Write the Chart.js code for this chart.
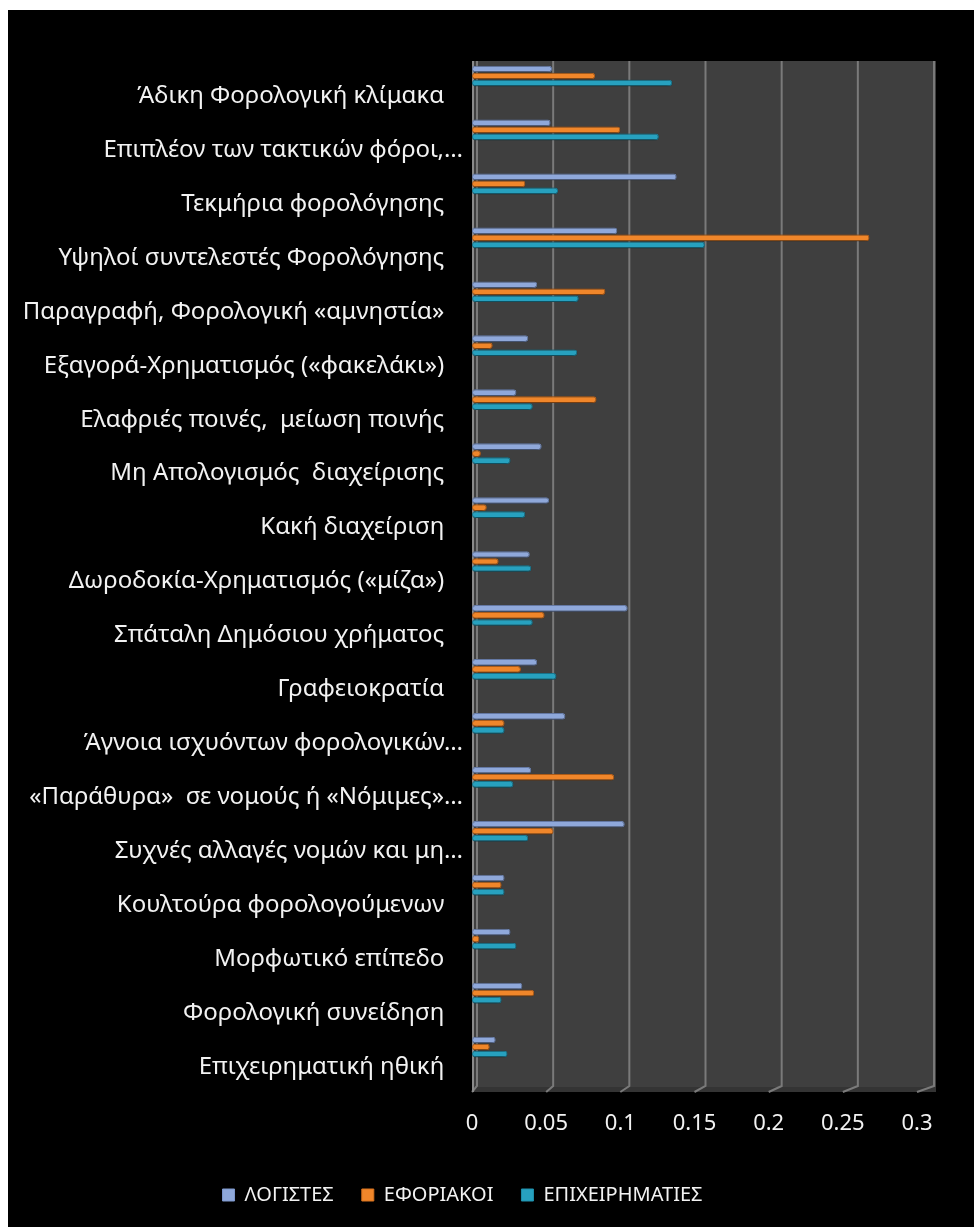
<!DOCTYPE html>
<html>
<head>
<meta charset="utf-8">
<script src="https://cdn.jsdelivr.net/npm/chart.js@4"></script>
<style>
  html, body { margin: 0; padding: 0; background: #ffffff; }
  #wrap { position: absolute; left: 8px; top: 10px; width: 966px; height: 1217px; background: #000000; }
</style>
</head>
<body>
<div id="wrap"><canvas id="myChart"></canvas></div>
<script>
// categories, top to bottom as in the picture
const categories = [
  "Άδικη Φορολογική κλίμακα   ",
  "Επιπλέον των τακτικών φόροι,…",
  "Τεκμήρια φορολόγησης   ",
  "Υψηλοί συντελεστές Φορολόγησης   ",
  "Παραγραφή, Φορολογική «αμνηστία»   ",
  "Εξαγορά-Χρηματισμός («φακελάκι»)   ",
  "Ελαφριές ποινές,  μείωση ποινής   ",
  "Μη Απολογισμός  διαχείρισης   ",
  "Κακή διαχείριση   ",
  "Δωροδοκία-Χρηματισμός («μίζα»)   ",
  "Σπάταλη Δημόσιου χρήματος   ",
  "Γραφειοκρατία   ",
  "Άγνοια ισχυόντων φορολογικών…",
  "«Παράθυρα»  σε νομούς ή «Νόμιμες»…",
  "Συχνές αλλαγές νομών και μη…",
  "Κουλτούρα φορολογούμενων   ",
  "Μορφωτικό επίπεδο   ",
  "Φορολογική συνείδηση   ",
  "Επιχειρηματική ηθική   ",
];

const seriesNames = ["ΛΟΓΙΣΤΕΣ", "ΕΦΟΡΙΑΚΟΙ", "ΕΠΙΧΕΙΡΗΜΑΤΙΕΣ"];

const logistes = [
  0.054, 0.053, 0.138, 0.098, 0.044, 0.038, 0.030, 0.047, 0.052, 0.039,
  0.105, 0.044, 0.063, 0.040, 0.103, 0.022, 0.026, 0.034, 0.016,
];
const eforiakoi = [
  0.083, 0.100, 0.036, 0.268, 0.090, 0.014, 0.084, 0.006, 0.010, 0.018,
  0.049, 0.033, 0.022, 0.096, 0.055, 0.020, 0.005, 0.042, 0.012,
];
const epixeirimaties = [
  0.135, 0.126, 0.058, 0.157, 0.072, 0.071, 0.041, 0.026, 0.036, 0.040,
  0.041, 0.057, 0.022, 0.028, 0.038, 0.022, 0.030, 0.020, 0.024,
];

const xTicks = [0, 0.05, 0.1, 0.15, 0.2, 0.25, 0.3];

const colors = ["#8fa8da", "#f0862a", "#27a1bf"];
const borders = ["#7d97cc", "#d8721f", "#1e90ad"];

// grey back wall + floor, grid lines with a little depth
const wallPlugin = {
  id: "wall",
  beforeDatasetsDraw(chart) {
    const ctx = chart.ctx;
    const a = chart.chartArea;
    const xs = chart.scales.x;
    const top = a.top + 12;
    const backBottom = a.bottom + 12;
    const frontBottom = a.bottom + 18;
    ctx.save();
    ctx.fillStyle = "#3f3f3f";
    ctx.fillRect(a.left, top, a.right - a.left + 19, frontBottom - top);
    ctx.fillStyle = "#343434";
    ctx.fillRect(a.left, backBottom + 1, a.right - a.left + 19, frontBottom - backBottom - 1);

    ctx.strokeStyle = "#7a7a7a";
    ctx.lineWidth = 2;
    xTicks.forEach(function (v) {
      const fx = xs.getPixelForValue(v);
      const bx = fx + 5 + (fx - a.left) * 0.027;
      ctx.beginPath();
      ctx.moveTo(bx, top);
      ctx.lineTo(bx, backBottom);
      ctx.lineTo(fx, frontBottom);
      ctx.stroke();
    });
    // front edge of the wall
    ctx.strokeStyle = "#8a8a8a";
    ctx.beginPath();
    ctx.moveTo(a.left + 1, top);
    ctx.lineTo(a.left + 1, frontBottom);
    ctx.stroke();

    ctx.shadowColor = "rgba(0,0,0,0.8)";
    ctx.shadowBlur = 4;
    ctx.shadowOffsetY = 1;
  },
  afterDatasetsDraw(chart) {
    chart.ctx.restore();
  },
};

const data = {
  labels: categories,
  datasets: [logistes, eforiakoi, epixeirimaties].map(function (vals, i) {
    return {
      label: seriesNames[i],
      data: vals,
      backgroundColor: colors[i],
      borderColor: borders[i],
      borderWidth: 1,
      borderRadius: 3,
      borderSkipped: false,
      categoryPercentage: 0.39,
      barPercentage: 0.95,
    };
  }),
};

Chart.defaults.font.family = "'Noto Sans', 'DejaVu Sans', sans-serif";
Chart.defaults.color = "#f2f2f2";

const chart = new Chart(document.getElementById("myChart"), {
  type: "bar",
  data: data,
  plugins: [wallPlugin],
  options: {
    indexAxis: "y",
    responsive: true,
    maintainAspectRatio: false,
    animation: false,
    layout: { padding: { top: 39, right: 57, bottom: 12, left: 0 } },
    scales: {
      x: {
        min: 0,
        max: 0.3,
        afterBuildTicks: function (s) {
          s.ticks = xTicks.map(function (v) { return { value: v }; });
        },
        afterFit: function (s) { s.height = 83; },
        grid: { display: false, drawTicks: false },
        border: { display: false },
        ticks: {
          padding: 37,
          font: { size: 22 },
          color: "#f2f2f2",
          callback: function (v) { return String(+v.toFixed(2)); },
        },
      },
      y: {
        afterFit: function (s) { s.width = 464; },
        grid: { display: false, drawTicks: false },
        border: { display: false },
        ticks: {
          padding: 9,
          labelOffset: 20,
          autoSkip: false,
          font: { size: 24 },
          color: "#f2f2f2",
        },
      },
    },
    plugins: {
      legend: {
        position: "bottom",
        labels: {
          boxWidth: 12,
          boxHeight: 12,
          padding: 28,
          font: { size: 20 },
          color: "#f2f2f2",
        },
      },
      tooltip: { enabled: false },
    },
  },
});
</script>
</body>
</html>
